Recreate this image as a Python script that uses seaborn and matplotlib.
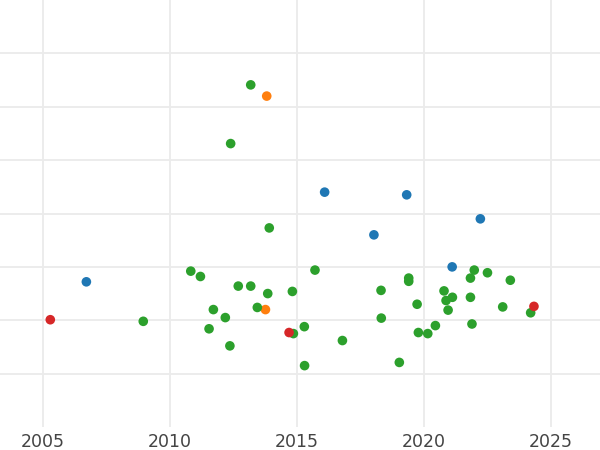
import matplotlib
matplotlib.use("Agg")
import matplotlib.pyplot as plt
import seaborn as sns
import pandas as pd

# values
blue_x = [2006.72, 2016.10, 2019.33, 2022.23, 2018.04, 2021.12]
blue_y = [2.72, 4.40, 4.35, 3.90, 3.60, 3.00]

orange_x = [2013.82, 2013.77]
orange_y = [6.20, 2.20]

green_x = [2013.19, 2012.40, 2013.92, 2010.83, 2011.21, 2012.70, 2013.19, 2013.86,
           2014.83, 2011.72, 2013.45, 2008.96, 2012.19, 2011.55, 2014.87, 2012.37,
           2015.72, 2021.99, 2022.51, 2021.84, 2019.41, 2019.41, 2023.41, 2018.32,
           2020.80, 2020.88, 2021.13, 2021.84, 2019.74, 2023.11, 2024.21, 2020.96,
           2015.30, 2018.33, 2020.46, 2021.90, 2019.79, 2020.16, 2016.80, 2019.04,
           2015.31]
green_y = [6.41, 5.31, 3.73, 2.92, 2.82, 2.64, 2.64, 2.50,
           2.54, 2.20, 2.24, 1.98, 2.05, 1.84, 1.75, 1.52,
           2.94, 2.94, 2.89, 2.79, 2.79, 2.73, 2.75, 2.56,
           2.55, 2.37, 2.43, 2.43, 2.30, 2.25, 2.14, 2.19,
           1.88, 2.04, 1.90, 1.93, 1.77, 1.75, 1.62, 1.21,
           1.15]

red_x = [2005.30, 2014.70, 2024.34]
red_y = [2.01, 1.77, 2.26]

groups = ["A", "B", "C", "D"]
palette = ["#1f77b4", "#ff7f0e", "#2ca02c", "#d62728"]


def build_frame():
    parts = []
    for name, xs, ys in zip(groups,
                            [blue_x, orange_x, green_x, red_x],
                            [blue_y, orange_y, green_y, red_y]):
        parts.append(pd.DataFrame({"year": xs, "value": ys, "group": name}))
    return pd.concat(parts, ignore_index=True)


def main():
    df = build_frame()

    sns.set_theme(style="whitegrid")
    fig = plt.figure(figsize=(6, 4.5), dpi=100)
    ax = fig.add_axes([0, 23 / 450, 1, 427 / 450])

    sns.scatterplot(data=df, x="year", y="value", hue="group", hue_order=groups,
                    palette=palette, s=48, linewidth=0, legend=False, ax=ax)

    ax.set_xlim(2003.32, 2026.94)
    ax.set_ylim(0, 8)
    ax.set_xticks([2005, 2010, 2015, 2020, 2025])
    ax.set_yticks(range(1, 8))
    ax.set_yticklabels([])
    ax.tick_params(axis="x", labelsize=12.5, labelcolor="#444444", pad=4, length=0)
    ax.tick_params(axis="y", length=0)
    ax.grid(color="#ebebeb", linewidth=1.3)
    ax.set_xlabel("")
    ax.set_ylabel("")
    for sp in ax.spines.values():
        sp.set_visible(False)

    fig.savefig("out.png", dpi=100)


if __name__ == "__main__":
    main()
